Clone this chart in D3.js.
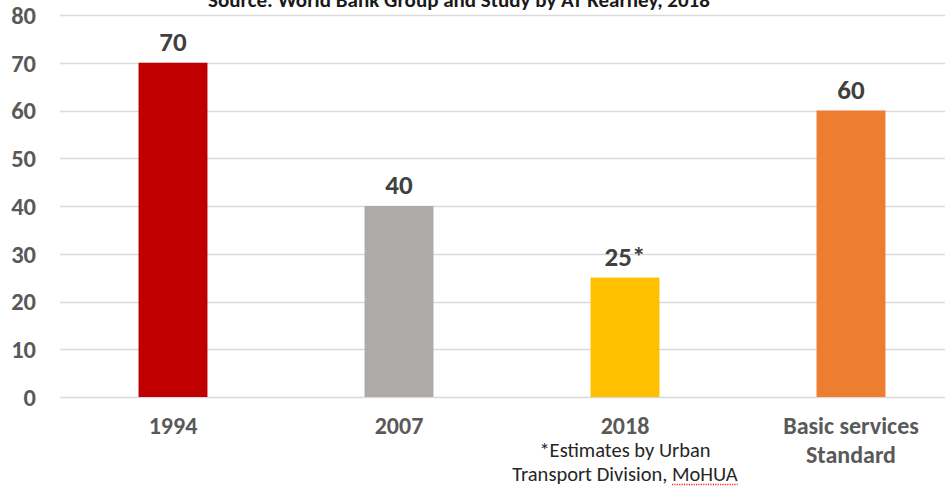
<!DOCTYPE html>
<html>
<head>
<meta charset="utf-8">
<script src="https://cdn.jsdelivr.net/npm/d3@7/dist/d3.min.js"></script>
<style>
  html, body { margin: 0; padding: 0; background: #ffffff; }
  svg { display: block; font-family: Carlito, Lato, "Open Sans", "Liberation Sans", sans-serif; }
</style>
</head>
<body>
<svg id="chart" width="945" height="486"></svg>
<script>
// Chart data
const categories = ["1994", "2007", "2018", "Basic services Standard"];
const values = [70, 40, 25, 60];
const valueLabels = ["70", "40", "25*", "60"];
const barColors = ["#C00000", "#AEAAAA", "#FFC000", "#ED7D31"];
const yTicks = [0, 10, 20, 30, 40, 50, 60, 70, 80];
const titleText = "Source: World Bank Group and Study by AT Kearney, 2018";
const noteLines = ["*Estimates by Urban", "Transport Division, MoHUA"];

const svg = d3.select("#chart");
const W = 945, H = 486;
const margin = { left: 60, top: 15, bottom: 89 };
const plotRight = 964;

const x = d3.scaleBand()
  .domain(categories)
  .range([margin.left, plotRight])
  .paddingInner(0.695)
  .paddingOuter(0.3475);

const y = d3.scaleLinear()
  .domain([0, 80])
  .range([H - margin.bottom, margin.top]);

// Title, sitting partly above the top edge of the frame
svg.append("text")
  .attr("x", 459)
  .attr("y", 7)
  .attr("text-anchor", "middle")
  .attr("font-size", 21)
  .attr("font-weight", "bold")
  .attr("fill", "#1a1a1a")
  .text(titleText);

// Horizontal gridlines
svg.append("g")
  .selectAll("line")
  .data(yTicks)
  .join("line")
  .attr("x1", margin.left)
  .attr("x2", W)
  .attr("y1", d => Math.round(y(d)) + 0.5)
  .attr("y2", d => Math.round(y(d)) + 0.5)
  .attr("stroke", "#d9d9d9")
  .attr("stroke-width", 1.5);

// Y axis labels
const yAxis = d3.axisLeft(y).tickValues(yTicks).tickSize(0).tickPadding(0);
const yg = svg.append("g")
  .attr("transform", `translate(36,0)`)
  .call(yAxis);
yg.select(".domain").remove();
yg.selectAll("text")
  .attr("font-size", 24.5)
  .attr("font-weight", "bold")
  .attr("fill", "#595959")
  .attr("font-family", "Carlito, Lato, 'Open Sans', sans-serif")
  .attr("dy", "0.34em");

// Bars
svg.append("g")
  .selectAll("rect")
  .data(values)
  .join("rect")
  .attr("x", (d, i) => x(categories[i]))
  .attr("width", x.bandwidth())
  .attr("y", d => y(d))
  .attr("height", d => y(0) - y(d))
  .attr("fill", (d, i) => barColors[i]);

// Value labels
svg.append("g")
  .selectAll("text")
  .data(values)
  .join("text")
  .attr("x", (d, i) => x(categories[i]) + x.bandwidth() / 2)
  .attr("y", d => y(d) - 12)
  .attr("text-anchor", "middle")
  .attr("font-size", 27)
  .attr("font-weight", "bold")
  .attr("fill", "#404040")
  .text((d, i) => valueLabels[i]);

// Category labels
const xg = svg.append("g")
  .attr("transform", `translate(0,${y(0)})`)
  .call(d3.axisBottom(x).tickSize(0).tickFormat(() => ""));
xg.select(".domain").remove();

const catLines = [["1994"], ["2007"], ["2018"], ["Basic services", "Standard"]];
categories.forEach((c, i) => {
  const cx = x(c) + x.bandwidth() / 2;
  catLines[i].forEach((line, j) => {
    svg.append("text")
      .attr("x", cx)
      .attr("y", 434 + j * 29)
      .attr("text-anchor", "middle")
      .attr("font-size", 24)
      .attr("font-weight", "bold")
      .attr("fill", "#595959")
      .text(line);
  });
});

// Footnote under 2018
const noteX = x("2018") + x.bandwidth() / 2;
const noteNodes = noteLines.map((line, j) =>
  svg.append("text")
    .attr("x", noteX)
    .attr("y", 457 + j * 24)
    .attr("text-anchor", "middle")
    .attr("font-size", 20.5)
    .attr("fill", "#262626")
    .text(line)
    .node()
);

// Dotted spell-check underline under "MoHUA"
const last = noteNodes[1];
const n = last.getNumberOfChars();
const start = last.getStartPositionOfChar(n - 5);
const end = last.getEndPositionOfChar(n - 1);
svg.append("line")
  .attr("x1", start.x).attr("x2", end.x)
  .attr("y1", 484.5).attr("y2", 484.5)
  .attr("stroke", "#ff2020")
  .attr("stroke-width", 1.3)
  .attr("stroke-dasharray", "1.2,1.2");
</script>
</body>
</html>
